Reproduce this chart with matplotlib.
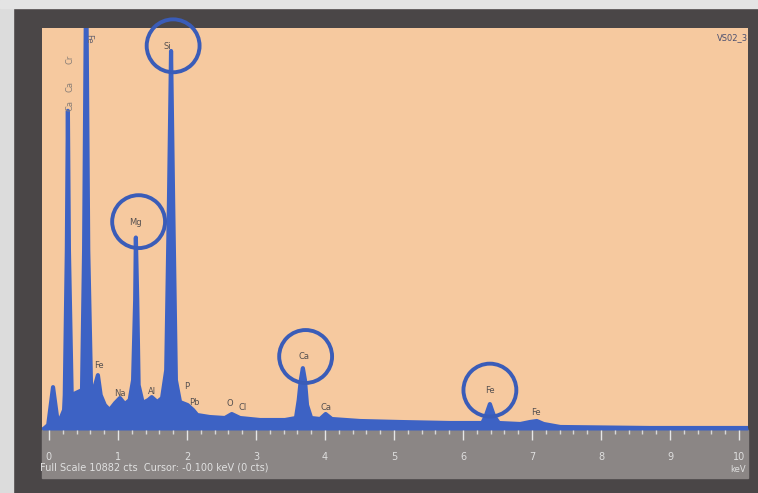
import matplotlib.pyplot as plt
from matplotlib.patches import Rectangle

# spectrum points (keV, counts)
energy = [-0.10, -0.06, -0.01, 0.06, 0.12, 0.16, 0.22,
          0.23, 0.26, 0.275, 0.29, 0.33, 0.39,
          0.48, 0.51, 0.54, 0.57, 0.61, 0.65,
          0.71, 0.75, 0.81, 0.88, 0.96, 1.03, 1.10, 1.17,
          1.22, 1.25, 1.26, 1.28, 1.30, 1.36, 1.44, 1.49, 1.57, 1.64,
          1.70, 1.74, 1.77, 1.80, 1.84, 1.90, 2.01, 2.09, 2.15, 2.33,
          2.55, 2.65, 2.77, 3.06, 3.42,
          3.58, 3.62, 3.65, 3.68, 3.71, 3.74, 3.80, 3.93, 4.01, 4.10,
          4.51, 5.09, 5.81,
          6.28, 6.33, 6.39, 6.45, 6.52, 6.83, 6.97, 7.07, 7.17, 7.41,
          8.71, 10.13]
counts = [0, 54, 135, 1160, 324, 270, 540,
          945, 4860, 8640, 4860, 945, 1000,
          1080, 4860, 12500, 4860, 1215, 1080,
          1485, 945, 675, 540, 730, 865, 700, 810,
          1350, 3510, 5210, 3510, 1215, 730, 810, 890, 756, 865,
          1620, 6210, 10260, 6210, 1350, 756, 675, 540, 405, 351,
          324, 432, 324, 270, 270,
          324, 810, 1350, 1674, 1350, 675, 324, 297, 432, 297,
          243, 216, 189,
          189, 378, 702, 378, 189, 162, 216, 243, 162, 81,
          54, 54]

# element labels (text, keV, counts)
labels = [("Si", 1.72, 10380), ("Mg", 1.26, 5620), ("Ca", 3.70, 2000),
          ("Fe", 6.39, 1080), ("Fe", 0.73, 1750), ("Na", 1.03, 1000),
          ("Al", 1.49, 1050), ("P", 1.99, 1190), ("Pb", 2.11, 750),
          ("O", 2.62, 730), ("Cl", 2.81, 620), ("Ca", 4.02, 620),
          ("Fe", 7.05, 480)]
circled = [(1.80, 10400), (1.30, 5640), (3.72, 1990), (6.39, 1080)]
full_scale = 10882

blue = "#3d62c4"

fig = plt.figure(figsize=(7.58, 4.93), dpi=100)
fig.patch.set_facecolor("#4a4647")
# light margin at left/top of the photo
fig.add_artist(Rectangle((0, 0), 13 / 758, 1, transform=fig.transFigure,
                         color="#dcdcdc", zorder=0))
fig.add_artist(Rectangle((0, 1 - 8 / 493), 1, 8 / 493, transform=fig.transFigure,
                         color="#e4e4e4", zorder=0))
# grey axis strip
fig.add_artist(Rectangle((42 / 758, 15 / 493), 706 / 758, 48 / 493,
                         transform=fig.transFigure, color="#8b8685", zorder=0))

ax = fig.add_axes([42 / 758, 63 / 493, 706 / 758, 402 / 493])
ax.set_facecolor("#f6c99f")
ax.fill_between(energy, counts, 0, color=blue, lw=0)
ax.plot(energy, counts, color=blue, lw=3, solid_joinstyle="round")
ax.set_xlim(-0.1, 10.13)
ax.set_ylim(0, full_scale)

for txt, e, c in labels:
    ax.text(e, c, txt, fontsize=6, color="#555050", ha="center", va="center")
ax.text(0.30, 9950, "Cr", fontsize=6, color="#8a7f77", rotation=90, ha="center")
ax.text(0.30, 9200, "Ca", fontsize=6, color="#8a7f77", rotation=90, ha="center")
ax.text(0.30, 8700, "Ca", fontsize=6, color="#8a7f77", rotation=90, ha="center")
ax.text(0.58, 10500, "Fe", fontsize=6, color="#6a6570", rotation=-90, ha="center")
for e, c in circled:
    ax.scatter(e, c, s=1450, facecolors="none", edgecolors="#3a5cb8",
               linewidths=2.8, zorder=5, clip_on=False)
ax.text(1.0, 0.975, "VS02_3", transform=ax.transAxes, fontsize=6,
        color="#4c5070", ha="right", va="center")

for s in ax.spines.values():
    s.set_visible(False)
ax.set_yticks([])
ax.set_xticks(range(0, 11))
ax.set_xticks([i / 5 for i in range(0, 51)], minor=True)
ax.tick_params(axis="x", which="major", direction="out", length=7, width=1,
               color="#e6e6e6", labelcolor="#dedede", labelsize=7, pad=9)
ax.tick_params(axis="x", which="minor", direction="out", length=3, width=1,
               color="#d8d8d8")

fig.text(40 / 758, 25 / 493, "Full Scale 10882 cts  Cursor: -0.100 keV (0 cts)",
         fontsize=7, color="#e0e0e0", va="center")
fig.text(746 / 758, 23 / 493, "keV", fontsize=6, color="#e0e0e0",
         ha="right", va="center")

fig.savefig("out.png", dpi=100, facecolor=fig.get_facecolor())
